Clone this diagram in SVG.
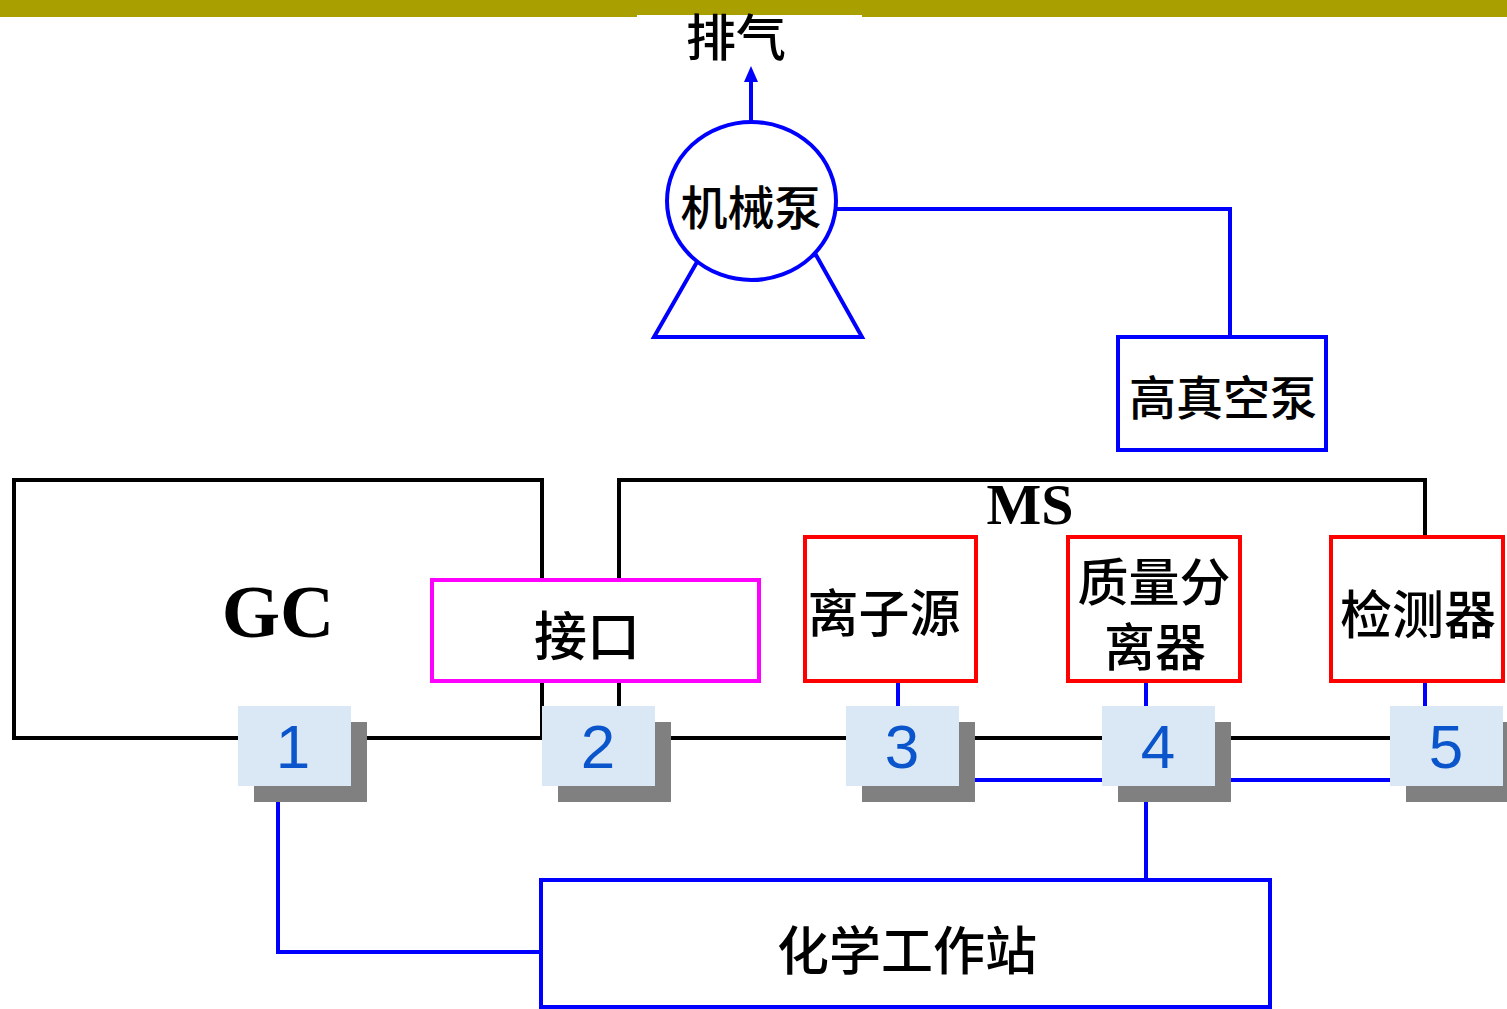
<svg xmlns="http://www.w3.org/2000/svg" width="1507" height="1009" viewBox="0 0 1507 1009">
<defs>
<style>
.cjk{font-family:"Noto Sans CJK SC","Liberation Sans",sans-serif;font-weight:500;fill:#000;text-anchor:middle}
.ser{font-family:"Liberation Serif",serif;font-weight:bold;fill:#000;text-anchor:middle}
.num{font-family:"Liberation Sans",sans-serif;fill:#0A55CC;font-size:62px;text-anchor:middle}
.blk{fill:none;stroke:#000;stroke-width:4}
.blu{fill:none;stroke:#0000FF;stroke-width:4}
.red{fill:#fff;stroke:#FF0000;stroke-width:4}
.nb{fill:#DAE8F6}
.sh{fill:#808080}
</style>
</defs>
<rect width="1507" height="1009" fill="#fff"/>
<rect x="0" y="0" width="1507" height="17" fill="#A9A000"/>
<rect x="637" y="15" width="225" height="3" fill="#fff"/>
<text class="cjk" x="736" y="56" font-size="50">排气</text>

<g id="connectors">
<line x1="751" y1="122" x2="751" y2="82" class="blu"/>
<path d="M744,82 L751,66 L758,82 Z" fill="#0000FF"/>
<polyline class="blu" points="836,209 1230,209 1230,337"/>
<line class="blu" x1="898" y1="681" x2="898" y2="706"/>
<line class="blu" x1="1146" y1="681" x2="1146" y2="706"/>
<line class="blu" x1="1425" y1="681" x2="1425" y2="706"/>
<line class="blu" x1="975" y1="780" x2="1102" y2="780"/>
<line class="blu" x1="1231" y1="780" x2="1390" y2="780"/>
<line class="blu" x1="1146" y1="802" x2="1146" y2="880"/>
<polyline class="blu" points="278,802 278,952 541,952"/>
</g>

<g id="pump">
<polygon class="blu" points="697,262 654,337 862,337 816,255"/>
<ellipse cx="751.5" cy="201" rx="84.5" ry="79" fill="#fff" stroke="#0000FF" stroke-width="4"/>
<text class="cjk" x="751" y="225" font-size="47">机械泵</text>
</g>

<g id="hvpump">
<rect x="1118" y="337" width="208" height="113" fill="#fff" stroke="#0000FF" stroke-width="4"/>
<text class="cjk" x="1223" y="415" font-size="47">高真空泵</text>
</g>

<g id="gc">
<rect class="blk" x="14" y="480" width="528" height="258"/>
<text class="ser" x="278" y="637" font-size="75">GC</text>
</g>

<g id="ms">
<polyline class="blk" points="619,738 619,480 1425,480 1425,540"/>
<line class="blk" x1="619" y1="738" x2="1400" y2="738"/>
<text class="ser" x="1030" y="524" font-size="58">MS</text>
</g>

<g id="interface">
<rect x="432" y="580" width="327" height="101" fill="#fff" stroke="#FF00FF" stroke-width="4"/>
<text class="cjk" x="587" y="656" font-size="53">接口</text>
</g>

<g id="ionsource">
<rect class="red" x="805" y="537" width="171" height="144"/>
<text class="cjk" x="884" y="632" font-size="51">离子源</text>
</g>

<g id="analyzer">
<rect class="red" x="1068" y="537" width="172" height="144"/>
<text class="cjk" font-size="51"><tspan x="1154" y="601">质量分</tspan><tspan x="1155" y="666">离器</tspan></text>
</g>

<g id="detector">
<rect class="red" x="1331" y="537" width="172" height="144"/>
<text class="cjk" x="1418" y="634" font-size="52">检测器</text>
</g>

<g id="n1"><rect class="sh" x="254" y="722" width="113" height="80"/><rect class="nb" x="238" y="706" width="113" height="80"/><text class="num" x="293" y="768">1</text></g>
<g id="n2"><rect class="sh" x="558" y="722" width="113" height="80"/><rect class="nb" x="542" y="706" width="113" height="80"/><text class="num" x="598" y="768">2</text></g>
<g id="n3"><rect class="sh" x="862" y="722" width="113" height="80"/><rect class="nb" x="846" y="706" width="113" height="80"/><text class="num" x="902" y="768">3</text></g>
<g id="n4"><rect class="sh" x="1118" y="722" width="113" height="80"/><rect class="nb" x="1102" y="706" width="113" height="80"/><text class="num" x="1158" y="768">4</text></g>
<g id="n5"><rect class="sh" x="1406" y="722" width="101" height="80"/><rect class="nb" x="1390" y="706" width="113" height="80"/><text class="num" x="1446" y="768">5</text></g>

<g id="workstation">
<rect x="541" y="880" width="729" height="127" fill="#fff" stroke="#0000FF" stroke-width="4"/>
<text class="cjk" x="907" y="970" font-size="52">化学工作站</text>
</g>
</svg>
